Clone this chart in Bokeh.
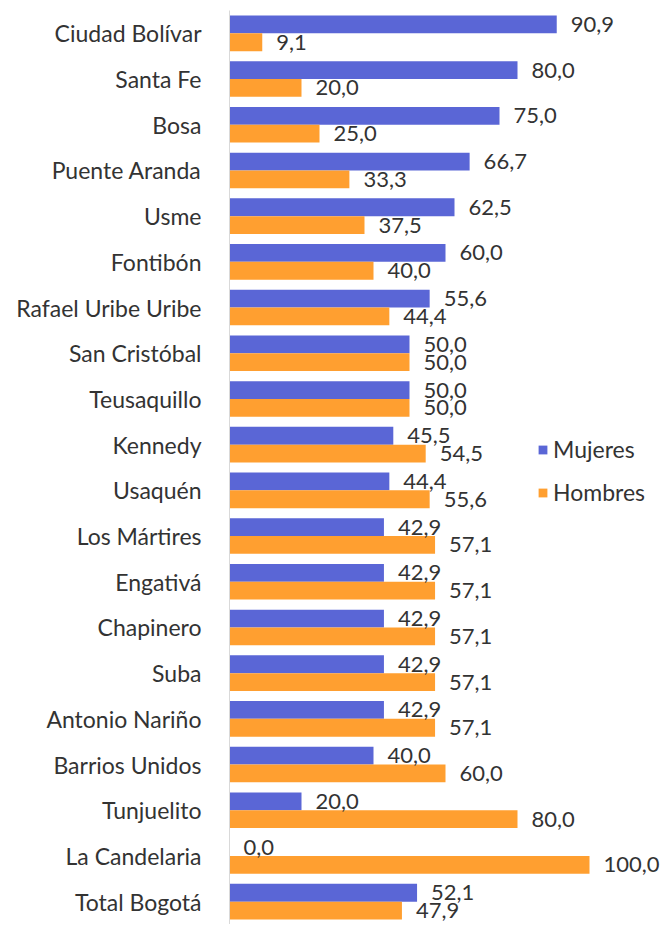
from bokeh.plotting import figure
from bokeh.models import ColumnDataSource, FactorRange, Range1d, Legend, LegendItem
from bokeh.transform import dodge
from bokeh.core.properties import value
from bokeh.embed import file_html
from bokeh.resources import INLINE

localidades = ["Ciudad Bolívar", "Santa Fe", "Bosa", "Puente Aranda", "Usme", "Fontibón",
               "Rafael Uribe Uribe", "San Cristóbal", "Teusaquillo", "Kennedy", "Usaquén",
               "Los Mártires", "Engativá", "Chapinero", "Suba", "Antonio Nariño",
               "Barrios Unidos", "Tunjuelito", "La Candelaria", "Total Bogotá"]
mujeres = [90.9, 80.0, 75.0, 66.7, 62.5, 60.0, 55.6, 50.0, 50.0, 45.5, 44.4,
           42.9, 42.9, 42.9, 42.9, 42.9, 40.0, 20.0, 0.0, 52.1]
hombres = [9.1, 20.0, 25.0, 33.3, 37.5, 40.0, 44.4, 50.0, 50.0, 54.5, 55.6,
           57.1, 57.1, 57.1, 57.1, 57.1, 60.0, 80.0, 100.0, 47.9]

BLUE = "#5A66D6"
ORANGE = "#FF9F30"
FONT = "Lato"
TXT = "#333333"
FS = "23px"
FSV = "22px"

fmt = lambda v: f"{v:.1f}".replace(".", ",")
src = ColumnDataSource(dict(
    cat=localidades, m=mujeres, h=hombres,
    mt=[fmt(v) for v in mujeres], ht=[fmt(v) for v in hombres],
))

LEFT = 229
W, H = 660, 924
p = figure(width=W, height=H, output_backend="svg", toolbar_location=None,
           y_range=FactorRange(*reversed(localidades), range_padding=0),
           x_range=Range1d(0, (W - LEFT) / 3.6),
           min_border_left=LEFT, min_border_right=0, min_border_top=10, min_border_bottom=0)

bw = 0.39
rb = p.hbar(y=dodge("cat", bw / 2, range=p.y_range), right="m", left=0, height=bw,
            source=src, fill_color=BLUE, line_color=None)
ro = p.hbar(y=dodge("cat", -bw / 2, range=p.y_range), right="h", left=0, height=bw,
            source=src, fill_color=ORANGE, line_color=None)

p.text(x="m", y=dodge("cat", bw / 2, range=p.y_range), text="mt", source=src,
       x_offset=14, y_offset=0, text_baseline="middle", text_align="left",
       text_font=value(FONT), text_font_size=FSV, text_color=TXT)
p.text(x="h", y=dodge("cat", -bw / 2, range=p.y_range), text="ht", source=src,
       x_offset=14, y_offset=0, text_baseline="middle", text_align="left",
       text_font=value(FONT), text_font_size=FSV, text_color=TXT)

legend = Legend(items=[LegendItem(label="Mujeres", renderers=[rb]),
                       LegendItem(label="Hombres", renderers=[ro])],
                location=(308, 418), orientation="vertical",
                glyph_width=11, glyph_height=11, spacing=15, padding=0, margin=0,
                label_text_font=FONT, label_text_font_size=FS, label_text_color=TXT,
                label_standoff=5, border_line_color=None, background_fill_alpha=0)
p.add_layout(legend)

p.xaxis.visible = False
p.xgrid.grid_line_color = None
p.ygrid.grid_line_color = None
p.outline_line_color = None
p.yaxis.axis_line_color = "#D9D9D9"
p.yaxis.major_tick_line_color = None
p.yaxis.minor_tick_line_color = None
p.yaxis.major_label_standoff = 22
p.yaxis.major_label_text_font = FONT
p.yaxis.major_label_text_font_size = FS
p.yaxis.major_label_text_color = TXT

open("out.html", "w").write(file_html(p, INLINE))
